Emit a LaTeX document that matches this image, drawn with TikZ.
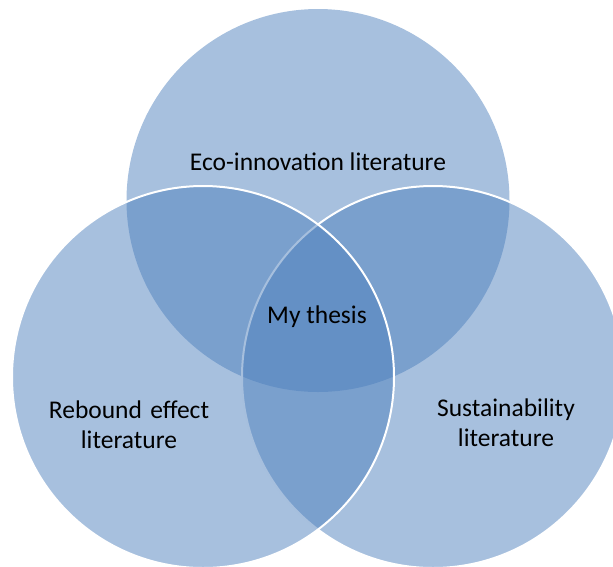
\documentclass[tikz,border=0pt]{standalone}
\usepackage{fontspec}
\setmainfont{Carlito}
\definecolor{accent}{HTML}{4F81BD}
\begin{document}
\begin{tikzpicture}[x=1pt,y=-1pt,
  venn/.style={fill=accent,fill opacity=0.5},
  vennline/.style={draw=white,line width=2pt},
  lbl/.style={text=black,font=\fontsize{25.5}{30}\selectfont,align=center,inner sep=0pt}]
\useasboundingbox (0,0) rectangle (613,566);
\clip (0,0) rectangle (613,566);
% top circle
\fill[venn] (318,200.5) circle (191.5);
% right circle
\fill[venn] (433,377) circle (191);
\draw[vennline] (433,377) circle (191);
% left circle
\fill[venn] (203,377) circle (191);
\draw[vennline] (203,377) circle (191);
\node[lbl] (eco) at (318,162) {Eco-innovation literature};
\node[lbl] (reb) at (129,425) {Rebound\hspace{0.1em} effect\\literature};
\node[lbl] (sus) at (506,423) {Sustainability\\literature};
\node[lbl] (my) at (317,317) {My thesis};
\end{tikzpicture}
\end{document}
